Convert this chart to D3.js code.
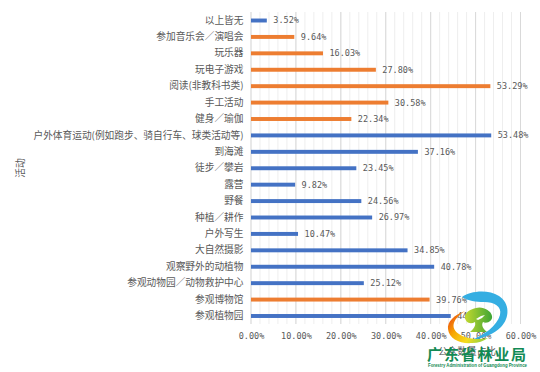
<!DOCTYPE html>
<html>
<head>
<meta charset="utf-8">
<script src="https://cdn.jsdelivr.net/npm/d3@7"></script>
<style>
html, body { margin: 0; padding: 0; background: #fff; }
svg { display: block; }
text { font-family: "Noto Sans CJK SC", sans-serif; fill: #595959; }
.num { font-family: "DejaVu Sans Mono", monospace; font-size: 8.5px; }
</style>
</head>
<body>
<svg id="chart"></svg>
<script>
const categories = ['以上皆无', '参加音乐会／演唱会', '玩乐器', '玩电子游戏', '阅读(非教科书类)', '手工活动', '健身／瑜伽',
	'户外体育运动(例如跑步、骑自行车、球类活动等)', '到海滩', '徒步／攀岩', '露营', '野餐', '种植／耕作', '户外写生',
	'大自然摄影', '观察野外的动植物', '参观动物园／动物救护中心', '参观博物馆', '参观植物园'];
const values = [3.52, 9.64, 16.03, 27.80, 53.29, 30.58, 22.34, 53.48, 37.16, 23.45, 9.82, 24.56, 26.97, 10.47, 34.85, 40.78, 25.12, 39.76, 44.47];
const groups = ['b', 'o', 'o', 'o', 'o', 'o', 'o', 'b', 'b', 'b', 'b', 'b', 'b', 'b', 'b', 'b', 'b', 'o', 'b'];
const xTicks = [0, 10, 20, 30, 40, 50, 60];
const minorTicks = d3.range(0, 61, 2);
const colors = { b: '#4472c4', o: '#ed7d31' };

const width = 540, height = 372;
const svg = d3.select('#chart').attr('width', width).attr('height', height);

const x = d3.scaleLinear().domain([0, 60]).range([251, 520.5]);
const y = d3.scaleBand().domain(categories).range([12.3, 324.2]).paddingInner(0.76).paddingOuter(0.38);

// gridlines, minor then major
svg.append('g').selectAll('line').data(minorTicks).join('line')
	.attr('x1', d => x(d)).attr('x2', d => x(d)).attr('y1', 12).attr('y2', 324)
	.attr('stroke', '#eeeeee').attr('stroke-width', 1);
svg.append('g').selectAll('line').data(xTicks).join('line')
	.attr('x1', d => x(d)).attr('x2', d => x(d)).attr('y1', 12).attr('y2', 324)
	.attr('stroke', '#d9d9d9').attr('stroke-width', 1);

svg.selectAll('rect.bar').data(categories).join('rect')
	.attr('class', 'bar')
	.attr('x', x(0)).attr('y', d => y(d))
	.attr('width', (d, i) => x(values[i]) - x(0)).attr('height', y.bandwidth())
	.attr('fill', (d, i) => colors[groups[i]]);

svg.selectAll('text.val').data(categories).join('text')
	.attr('class', 'val num')
	.attr('x', (d, i) => x(values[i]) + 6.5).attr('y', d => y(d) + y.bandwidth() / 2)
	.attr('dy', '0.35em')
	.text((d, i) => values[i].toFixed(2) + '%');

// axes with the domain line and tick marks dropped
const yAxis = svg.append('g').attr('transform', `translate(${x(0)},0)`)
	.call(d3.axisLeft(y).tickSize(0).tickPadding(7.5));
yAxis.select('.domain').remove();
yAxis.selectAll('text').attr('font-size', 9.7).attr('font-family', '"Noto Sans CJK SC"').attr('fill', '#595959');

const xAxis = svg.append('g').attr('transform', 'translate(0,324)')
	.call(d3.axisBottom(x).tickValues(xTicks).tickSize(0).tickPadding(9).tickFormat(d => d.toFixed(2) + '%'));
xAxis.select('.domain').remove();
xAxis.selectAll('text').attr('class', 'num').attr('font-family', '"DejaVu Sans Mono"').attr('font-size', 8.5).attr('fill', '#595959');

svg.append('text').attr('transform', 'translate(24,168) rotate(-90)')
	.attr('text-anchor', 'middle').attr('font-size', 9.7).text('活动');
svg.append('text').attr('x', 467).attr('y', 355)
	.attr('text-anchor', 'middle').attr('font-size', 9.7).text('公众数量占比');

// logo watermark sits on top of the chart
const defs = svg.append('defs');
const ring = defs.append('linearGradient').attr('id', 'ring').attr('x1', 0).attr('y1', 0).attr('x2', 1).attr('y2', 0.6);
ring.append('stop').attr('offset', '0%').attr('stop-color', '#e8301c');
ring.append('stop').attr('offset', '40%').attr('stop-color', '#f7a600');
ring.append('stop').attr('offset', '75%').attr('stop-color', '#f5dc1e');
ring.append('stop').attr('offset', '100%').attr('stop-color', '#a8d23a');
const tree = defs.append('linearGradient').attr('id', 'tree').attr('x1', 0).attr('y1', 0).attr('x2', 1).attr('y2', 0);
tree.append('stop').attr('offset', '0%').attr('stop-color', '#c2d82e');
tree.append('stop').attr('offset', '100%').attr('stop-color', '#3fa535');

const logo = svg.append('g');
logo.append('path').attr('fill', '#35aee2')
	.attr('d', 'M462 297 C470 291 488 289 499 296 C510 303 510 318 501 327 C494 334 484 338 470 341 C484 335 497 326 500 315 C502 306 494 302 484 302 C476 302 468 301 462 297 Z');
logo.append('path').attr('fill', 'url(#ring)')
	.attr('d', 'M465 311 C454 315 447 322 448 329 C449 339 460 344 472 343 C478 343 484 341 488 338 C478 340 466 339 459 334 C451 329 451 320 465 311 Z');
logo.append('path').attr('fill', 'url(#tree)')
	.attr('d', 'M476 308 C482 306 491 310 492 316 C493 321 487 324 483 322 C481 325 483 329 487 332 L470 332 C474 329 476 325 475 322 C470 325 465 322 465 317 C465 312 471 309 476 308 Z');
logo.append('path').attr('fill', '#ffffff').attr('d', 'M476 319 L481 316 L485 315 L482 318 L478 320 Z');
logo.append('text').attr('x', 477.5).attr('y', 359.5).attr('text-anchor', 'middle')
	.attr('font-size', 15).attr('font-weight', 700).attr('letter-spacing', 1.8)
	.style('fill', '#128a54').text('广东省林业局');
logo.append('text').attr('x', 428).attr('y', 366.5).attr('textLength', 99).attr('lengthAdjust', 'spacingAndGlyphs')
	.style('font-family', '"Liberation Sans"').attr('font-size', 4.6).attr('font-weight', 700)
	.style('fill', '#128a54').text('Forestry Administration of Guangdong Province');
</script>
</body>
</html>
